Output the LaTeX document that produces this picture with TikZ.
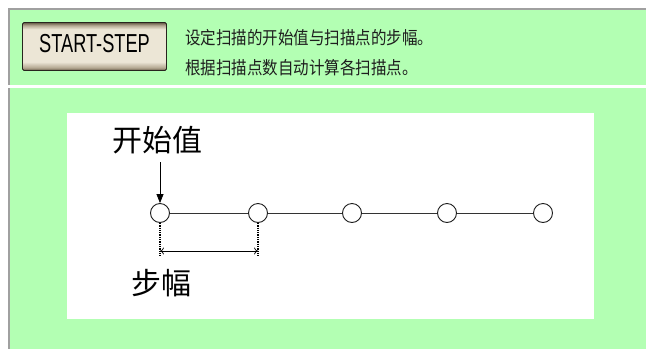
\documentclass[tikz,border=0pt]{standalone}
\usepackage{graphicx}
\usepackage{fontspec}
\setmainfont{Liberation Sans}
\newfontfamily\cjk{Noto Sans CJK SC}
\usetikzlibrary{arrows.meta}
\definecolor{panelgreen}{RGB}{179,255,179}
\definecolor{bordergray}{RGB}{160,160,160}
\definecolor{btnlight}{RGB}{236,230,214}
\definecolor{btnmid}{RGB}{180,168,146}
\definecolor{btndark}{RGB}{100,88,68}
\definecolor{btnborder}{RGB}{40,36,30}
\definecolor{inkgray}{RGB}{30,30,30}
\pgfdeclareverticalshading{btnshade}{100bp}{color(0bp)=(btndark); color(25bp)=(btndark); color(28bp)=(btnmid); color(34bp)=(btnlight); color(68bp)=(btnlight); color(72bp)=(btnmid); color(75bp)=(btndark); color(100bp)=(btndark)}
\tikzset{
  panel/.style={fill=panelgreen, draw=none, inner sep=0pt, anchor=north west},
  rule/.style={fill=bordergray, draw=none, inner sep=0pt, anchor=north west},
  button/.style={shade, shading=btnshade, draw=btnborder, line width=0.9pt, rounded corners=1.5pt,
    minimum width=144pt, minimum height=48pt, inner sep=0pt},
  btntext/.style={inner sep=0pt, font=\fontsize{26}{30}\selectfont, text=black},
  headtext/.style={anchor=west, inner sep=0pt, font=\cjk\fontsize{15.5}{18}\selectfont, text=inkgray},
  canvas/.style={fill=white, draw=none, inner sep=0pt, anchor=north west},
  biglabel/.style={inner sep=0pt, font=\cjk\fontsize{30}{36}\selectfont, text=black},
  dot/.style={circle, draw=inkgray, line width=0.9pt, fill=white, minimum size=19pt, inner sep=0pt},
  link/.style={draw=black!80, line width=0.9pt},
  marker/.style={densely dotted, line width=1.3pt, black},
  pointer/.style={-{Triangle[length=9pt,width=7pt]}, line width=0.8pt, black},
  span/.style={{To[length=4pt,width=7pt]}-{To[length=4pt,width=7pt]}, line width=0.7pt, black}
}
\begin{document}
\begin{tikzpicture}[x=1pt,y=-1pt]
\useasboundingbox (0,0) rectangle (646,349);
\fill[white] (0,0) rectangle (646,349);
% header panel
\node[panel, minimum width=638.5pt, minimum height=77.5pt] (head) at (7.5,7.5) {};
\node[rule, minimum width=638.5pt, minimum height=2.5pt] (headtop) at (7.5,7.5) {};
\node[rule, minimum width=2.5pt, minimum height=77.5pt] (headleft) at (7.5,7.5) {};
% body panel
\node[panel, minimum width=638pt, minimum height=261pt] (body) at (8,88) {};
\node[rule, minimum width=2pt, minimum height=261pt] (bodyleft) at (8,88) {};
% button
\node[button] (btn) at (94.5,46.5) {};
\node[btntext] (btnlabel) at ([yshift=3pt]btn.center) {\scalebox{0.7}[1]{START-STEP}};
\node[headtext] (line1) at (185,38) {\scalebox{1}[1.15]{设定扫描的开始值与扫描点的步幅。}};
\node[headtext] (line2) at (185,67.5) {\scalebox{1}[1.15]{根据扫描点数自动计算各扫描点。}};
% canvas
\node[canvas, minimum width=527pt, minimum height=206pt] (canvas) at (67,113) {};
% points
\node[dot] (c1) at (160,213) {};
\node[dot] (c2) at (258,213) {};
\node[dot] (c3) at (352,213) {};
\node[dot] (c4) at (447,213) {};
\node[dot] (c5) at (543,213) {};
\draw[link] (c1) -- (c2);
\draw[link] (c2) -- (c3);
\draw[link] (c3) -- (c4);
\draw[link] (c4) -- (c5);
% labels
\node[biglabel] (start) at (157,140) {开始值};
\node[biglabel] (stepwidth) at (161,283) {步幅};
\coordinate (arrowtop) at (160,162);
\draw[pointer] (arrowtop) -- (c1.north);
% step markers
\coordinate (d1) at (160,257);
\coordinate (d2) at (258,257);
\draw[marker] (c1.south) -- (d1);
\draw[marker] (c2.south) -- (d2);
\coordinate (a1) at (160,251);
\coordinate (a2) at (258,251);
\draw[span] (a1) -- (a2);
\end{tikzpicture}
\end{document}
